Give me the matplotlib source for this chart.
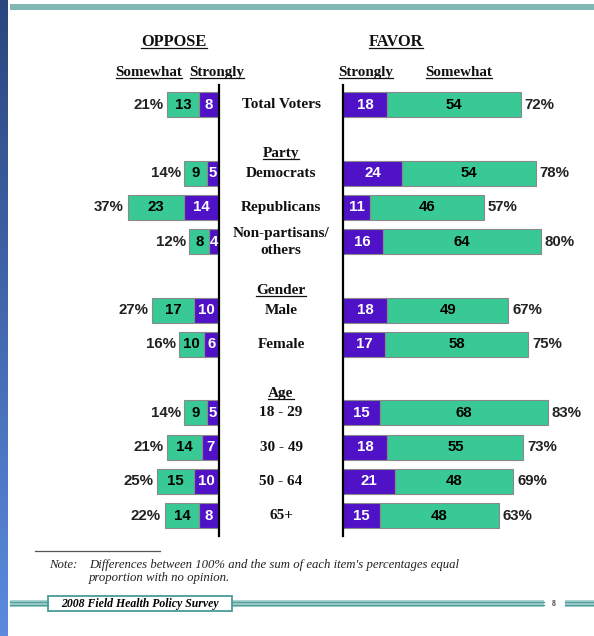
import numpy as np
import matplotlib.pyplot as plt
from matplotlib.patches import Rectangle
from matplotlib.lines import Line2D
from matplotlib.colors import LinearSegmentedColormap
import matplotlib.transforms as mtransforms

# ---- data ----
groups = ['', 'Party', 'Gender', 'Age']
labels = [['Total Voters'],
          ['Democrats', 'Republicans', 'Non-partisans/\nothers'],
          ['Male', 'Female'],
          ['18 - 29', '30 - 49', '50 - 64', '65+']]
oppose_strongly = [8, 5, 14, 4, 10, 6, 5, 7, 10, 8]
oppose_somewhat = [13, 9, 23, 8, 17, 10, 9, 14, 15, 14]
oppose_total = [21, 14, 37, 12, 27, 16, 14, 21, 25, 22]
favor_strongly = [18, 24, 11, 16, 18, 17, 15, 18, 21, 15]
favor_somewhat = [54, 54, 46, 64, 49, 58, 68, 55, 48, 48]
favor_total = [72, 78, 57, 80, 67, 75, 83, 73, 69, 63]

purple = '#4f12c6'
green = '#38c995'
W, H = 594, 636
S = 2.47  # px per percentage point

fig = plt.figure(figsize=(W / 100, H / 100), dpi=100)


def px_axes(x0, y0, x1, y1, **kw):
    return fig.add_axes([x0 / W, 1 - y1 / H, (x1 - x0) / W, (y1 - y0) / H], **kw)


# page decorations
bg = px_axes(0, 0, W, H, zorder=0)
bg.set_xlim(0, W)
bg.set_ylim(H, 0)
bg.axis('off')
grad = np.linspace(0, 1, 200).reshape(-1, 1)
cm = LinearSegmentedColormap.from_list('strip', ['#2b467f', '#5b8ade'])
bg.imshow(grad, cmap=cm, extent=[0, 8, H, 0], aspect='auto')
bg.add_patch(Rectangle((10, 4), W - 10, 6, color='#80b8b5', lw=0))
for xa, xb in [(10, 48), (232, 544), (565, W)]:
    bg.add_patch(Rectangle((xa, 600), xb - xa, 7, color='#a9d3d0', lw=0))
    bg.plot([xa, xb], [602, 602], color='#4e9e9a', lw=1)
    bg.plot([xa, xb], [605, 605], color='#4e9e9a', lw=1)
bg.add_patch(Rectangle((48, 596), 184, 15, facecolor='white', edgecolor='#4a9a98', lw=1.3))
bg.text(140, 604, '2008 Field Health Policy Survey', ha='center', va='center',
        family='Liberation Serif', style='italic', weight='bold', fontsize=8.5)
bg.text(554, 604, '8', ha='center', va='center', family='Liberation Serif',
        weight='bold', fontsize=5.5, color='#444444')
bg.plot([35, 160], [551, 551], color='#555555', lw=0.9)
note_kw = dict(family='Liberation Serif', style='italic', fontsize=9.2, va='center', color='#222222')
bg.text(49, 565, 'Note:', **note_kw)
bg.text(89, 565, "Differences between 100% and the sum of each item's percentages equal", **note_kw)
bg.text(89, 578, 'proportion with no opinion.', **note_kw)

# row positions
rows, heads, names = [], [], []
y = 0
for g, labs in zip(groups, labels):
    if g:
        y += 1
        heads.append((g, y - 0.65))
    for lab in labs:
        rows.append(y)
        names.append(lab)
        y += 1
rows = np.array(rows)

top_px, bot_px, row0_px, pitch = 85, 536, 104.8, 34.23
ylim = ((bot_px - row0_px) / pitch, -(row0_px - top_px) / pitch)

axL = px_axes(219 - 45 * S, top_px, 219, bot_px)
axR = px_axes(343, top_px, 343 + 100 * S, bot_px)
axL.set_xlim(45, 0)
axR.set_xlim(0, 100)
for ax in (axL, axR):
    ax.set_ylim(*ylim)
    ax.set_xticks([])
    ax.set_yticks([])
    ax.patch.set_alpha(0)
    for sp in ax.spines.values():
        sp.set_visible(False)
axL.spines['right'].set_visible(True)
axR.spines['left'].set_visible(True)
axL.spines['right'].set_linewidth(1.6)
axR.spines['left'].set_linewidth(1.6)

bh = 0.73
num_kw = dict(family='Liberation Sans', weight='bold', fontsize=10.8, va='center')
edge = dict(edgecolor='#8a8a8a', linewidth=0.8)

axL.barh(rows, oppose_strongly, height=bh, color=purple, **edge)
axL.barh(rows, oppose_somewhat, left=oppose_strongly, height=bh, color=green, **edge)
axR.barh(rows, favor_strongly, height=bh, color=purple, **edge)
axR.barh(rows, favor_somewhat, left=favor_strongly, height=bh, color=green, **edge)

for r, a, b, t in zip(rows, oppose_strongly, oppose_somewhat, oppose_total):
    axL.text(a / 2, r, str(a), ha='center', color='white', **num_kw)
    axL.text(a + b / 2, r, str(b), ha='center', color='black', **num_kw)
    axL.text(a + b + 1.5, r, f'{t}%', ha='right', color='#222222', **num_kw)
for r, a, b, t in zip(rows, favor_strongly, favor_somewhat, favor_total):
    axR.text(a / 2, r, str(a), ha='center', color='white', **num_kw)
    axR.text(a + b / 2, r, str(b), ha='center', color='black', **num_kw)
    axR.text(a + b + 1.5, r, f'{t}%', ha='left', color='#222222', **num_kw)

serif = dict(family='Liberation Serif', weight='bold', color='#111111')
mid = mtransforms.blended_transform_factory(fig.transFigure, axR.transData)
cx = 281 / W
for r, lab in zip(rows, names):
    axR.text(cx, r, lab, transform=mid, ha='center', va='center', fontsize=11,
             linespacing=1.4, **serif)

underlined = []
for g, hy in heads:
    underlined.append(axR.text(cx, hy + 0.18, g, transform=mid, ha='center',
                               va='baseline', fontsize=11, **serif))


def ftext(x, y, s, size):
    return bg.text(x, y, s, ha='center', va='baseline', fontsize=size, **serif)


underlined += [ftext(174, 46, 'OPPOSE', 11.8), ftext(396, 46, 'FAVOR', 11.8),
               ftext(149, 76, 'Somewhat', 10.8), ftext(217, 76, 'Strongly', 10.8),
               ftext(366, 76, 'Strongly', 10.8), ftext(459, 76, 'Somewhat', 10.8)]

fig.canvas.draw()
for t in underlined:
    bb = t.get_window_extent()
    yb = t.get_transform().transform(t.get_position())[1] - 2
    fig.add_artist(Line2D([bb.x0 / W, bb.x1 / W], [yb / H, yb / H],
                          transform=fig.transFigure, color='#111111', lw=0.9))

fig.savefig('out.png', dpi=100, facecolor='white')
